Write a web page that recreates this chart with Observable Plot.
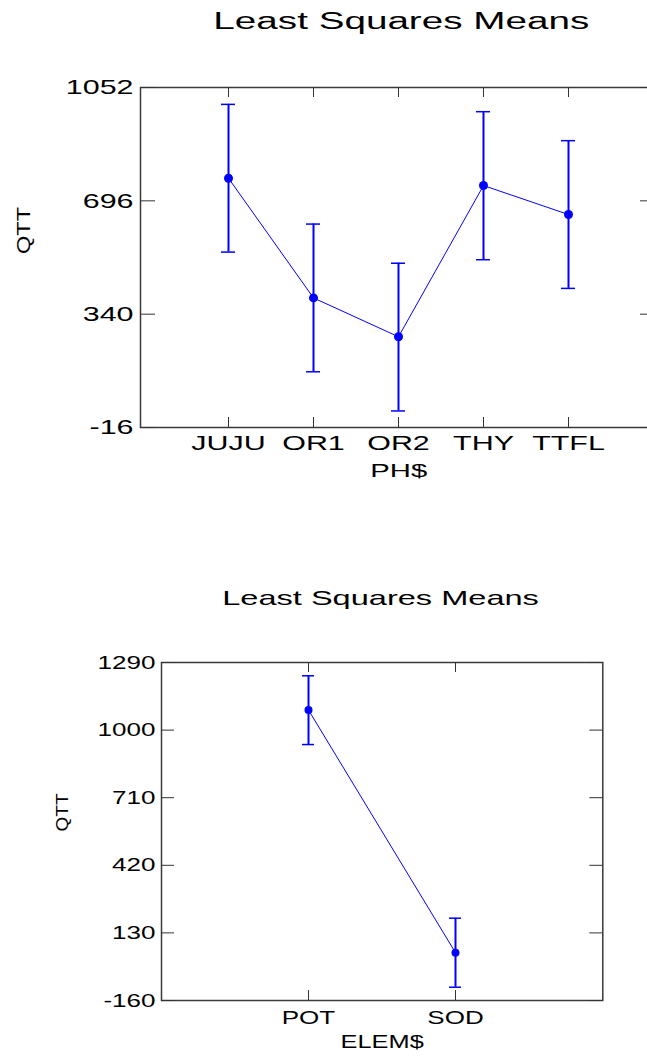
<!DOCTYPE html>
<html>
<head>
<meta charset="utf-8">
<script src="https://cdn.jsdelivr.net/npm/d3@7"></script>
<script src="https://cdn.jsdelivr.net/npm/@observablehq/plot@0.6"></script>
<style>
  html, body { margin: 0; padding: 0; background: #fff; }
  #wrap { width: 647px; height: 1056px; overflow: hidden; }
  #wrap svg { display: block; overflow: hidden; }
</style>
</head>
<body>
<div id="wrap"></div>
<script>
// ---- Data: PH$ (top chart) ----
const phCats  = ["JUJU", "OR1", "OR2", "THY", "TTFL"];
const phMeans = [767, 391, 269, 744, 653];
const phLower = [535, 159, 36, 511, 421];
const phUpper = [999, 623, 500, 976, 885];
const phYTicks = [-16, 340, 696, 1052];

// ---- Data: ELEM$ (bottom chart) ----
const elemCats  = ["POT", "SOD"];
const elemMeans = [1086, 45];
const elemLower = [938, -103];
const elemUpper = [1233, 193];
const elemYTicks = [-160, 130, 420, 710, 1000, 1290];

const titleText = "Least Squares Means";
const yLabel = "QTT";

const BLUE = "#0000ff";
const FONT = "'Liberation Sans', Arial, Helvetica, sans-serif";

function rows(cats, means, lower, upper) {
  return cats.map((c, i) => ({cat: c, mean: means[i], lo: lower[i], hi: upper[i]}));
}

function stretchTexts(svg, opt) {
  for (const t of svg.querySelectorAll("text")) {
    const s = t.textContent;
    let target;
    if (s === yLabel) {
      target = opt.qtt;
    } else {
      const len = t.getComputedTextLength();
      const k = s === titleText ? opt.title : (s.endsWith("$") ? opt.label : opt.tick);
      target = len * k;
    }
    t.setAttribute("textLength", target.toFixed(1));
    t.setAttribute("lengthAdjust", "spacingAndGlyphs");
  }
}

function makeChart(cfg) {
  const data = rows(cfg.cats, cfg.means, cfg.lower, cfg.upper);
  const plotW = cfg.width - cfg.marginLeft - cfg.marginRight;
  const plotH = cfg.height - cfg.marginTop - cfg.marginBottom;
  const yTop = cfg.yTicks[cfg.yTicks.length - 1];
  const yBot = cfg.yTicks[0];
  // band scale whose band width equals the error-bar cap width, centred on the category positions
  const n = cfg.cats.length;
  const step = (cfg.xCenters[1] - cfg.xCenters[0]) / (n - 1);
  const bw = 2 * cfg.cap;
  return Plot.plot({
    width: cfg.width,
    height: cfg.height,
    marginLeft: cfg.marginLeft,
    marginRight: cfg.marginRight,
    marginTop: cfg.marginTop,
    marginBottom: cfg.marginBottom,
    style: {fontFamily: FONT, background: "#fff", color: "#000"},
    x: {type: "band", domain: cfg.cats, range: [cfg.xCenters[0] - cfg.cap, cfg.xCenters[1] + cfg.cap],
        paddingInner: 1 - bw / step, paddingOuter: 0, align: 0.5},
    y: {domain: [yBot, yTop]},
    marks: [
      Plot.frame({stroke: "#3a3a3a", strokeWidth: 1.5, insetRight: cfg.frameInsetRight}),
      Plot.ruleY(cfg.yTicks, {stroke: "#333", strokeWidth: 1, insetRight: plotW - cfg.yTickLen}),
      Plot.ruleY(cfg.yTicks, {stroke: "#333", strokeWidth: 1, insetLeft: plotW - cfg.yTickRight}),
      Plot.ruleX(cfg.cats, {stroke: "#333", strokeWidth: 1, insetBottom: plotH - 10}),
      Plot.ruleX(cfg.cats, {stroke: "#333", strokeWidth: 1, insetTop: plotH - 10}),
      Plot.axisY(cfg.yTicks, {tickSize: 0, tickPadding: cfg.yPad, fontSize: cfg.tickFont, label: null, tickFormat: d => String(d)}),
      Plot.axisX(cfg.cats, {tickSize: 0, tickPadding: cfg.xPad, fontSize: cfg.tickFont, label: null}),
      Plot.ruleX(data, {x: "cat", y1: "lo", y2: "hi", stroke: BLUE, strokeWidth: 2}),
      Plot.tickY(data, {x: "cat", y: "hi", stroke: BLUE, strokeWidth: 1.5}),
      Plot.tickY(data, {x: "cat", y: "lo", stroke: BLUE, strokeWidth: 1.5}),
      Plot.line(data, {x: "cat", y: "mean", stroke: BLUE, strokeWidth: 1}),
      Plot.dot(data, {x: "cat", y: "mean", r: cfg.dotR, fill: BLUE, stroke: "none"}),
      Plot.text([titleText], {text: d => d, frameAnchor: "top", lineAnchor: "bottom", dx: cfg.titleDx, dy: cfg.titleDy, fontSize: cfg.titleFont, fill: "#000"}),
      Plot.text([cfg.xLabel], {text: d => d, frameAnchor: "bottom", lineAnchor: "top", dx: cfg.xLabelDx, dy: cfg.xLabelDy, fontSize: cfg.labelFont, fill: "#000"}),
      Plot.text([yLabel], {text: d => d, frameAnchor: "left", rotate: -90, dx: cfg.yLabelDx, dy: cfg.yLabelDy, fontSize: cfg.qttFont, fill: "#000"})
    ]
  });
}

const wrap = document.getElementById("wrap");

const topChart = makeChart({
  cats: phCats, means: phMeans, lower: phLower, upper: phUpper, yTicks: phYTicks,
  width: 647, height: 490, marginLeft: 140, marginRight: 0, marginTop: 87, marginBottom: 63,
  xCenters: [226.7, 569.3], frameInsetRight: -7,
  yTickLen: 15, yTickRight: 7, yPad: 7, xPad: 8, tickFont: 21,
  cap: 7, dotR: 4.5,
  titleFont: 23, titleDx: 7.3, titleDy: -58.5,
  xLabel: "PH$", labelFont: 19, xLabelDx: 4.8, xLabelDy: 36,
  qttFont: 19, yLabelDx: -117, yLabelDy: -3.5
});
wrap.appendChild(topChart);
stretchTexts(topChart, {tick: 1.45, title: 1.68, label: 1.54, qtt: 47});

const bottomChart = makeChart({
  cats: elemCats, means: elemMeans, lower: elemLower, upper: elemUpper, yTicks: elemYTicks,
  width: 647, height: 566, marginLeft: 161, marginRight: 44.7, marginTop: 172, marginBottom: 56,
  xCenters: [307.3, 455], frameInsetRight: 0,
  yTickLen: 13, yTickRight: 13, yPad: 6, xPad: 10, tickFont: 19,
  cap: 6, dotR: 4,
  titleFont: 21, titleDx: -1.6, titleDy: -58,
  xLabel: "ELEM$", labelFont: 18, xLabelDx: 0, xLabelDy: 35,
  qttFont: 17, yLabelDx: -99, yLabelDy: 0
});
wrap.appendChild(bottomChart);
stretchTexts(bottomChart, {tick: 1.37, title: 1.55, label: 1.41, qtt: 38});
</script>
</body>
</html>
